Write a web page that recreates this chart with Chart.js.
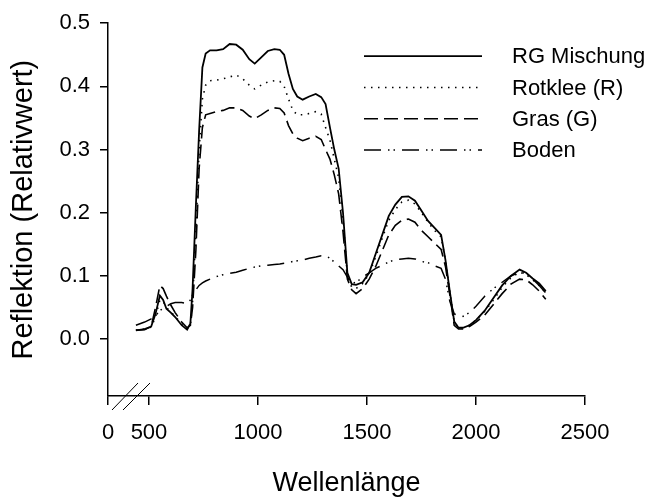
<!DOCTYPE html>
<html>
<head>
<meta charset="utf-8">
<script src="https://cdn.jsdelivr.net/npm/chart.js@4.4.1/dist/chart.umd.min.js"></script>
<style>
  html, body { margin: 0; padding: 0; background: #fff; }
  canvas { display: block; }
</style>
</head>
<body>
<canvas id="chart" width="651" height="500"></canvas>
<script>
// Spectral reflectance of a red clover / grass mixture, its components and bare soil
const wavelengths = [440, 480, 510, 530, 550, 565, 580, 600, 620, 650, 675, 690, 700, 715, 730, 745, 760, 780, 810, 840,
  870, 900, 930, 960, 985, 1015, 1045, 1075, 1100, 1120, 1140, 1160, 1180, 1205, 1235, 1265, 1290, 1310, 1330, 1350,
  1370, 1390, 1410, 1430, 1450, 1480, 1510, 1540, 1570, 1600, 1630, 1660, 1690, 1720, 1750, 1780, 1810, 1840, 1860, 1880,
  1900, 1920, 1940, 1970, 2000, 2040, 2080, 2120, 2160, 2200, 2230, 2260, 2290, 2320];

const rgMischung = [0.014, 0.016, 0.020, 0.040, 0.069, 0.062, 0.048, 0.042, 0.035, 0.022, 0.015, 0.025, 0.080, 0.210, 0.330, 0.430, 0.452, 0.457, 0.457, 0.459,
  0.467, 0.466, 0.458, 0.443, 0.436, 0.446, 0.456, 0.459, 0.458, 0.450, 0.420, 0.396, 0.384, 0.379, 0.384, 0.388, 0.383, 0.372, 0.335, 0.300,
  0.270, 0.200, 0.105, 0.087, 0.086, 0.090, 0.105, 0.135, 0.165, 0.195, 0.213, 0.225, 0.226, 0.219, 0.203, 0.187, 0.176, 0.165, 0.125, 0.075,
  0.028, 0.018, 0.018, 0.022, 0.030, 0.045, 0.065, 0.085, 0.100, 0.110, 0.105, 0.096, 0.088, 0.076];

const rotklee = [0.014, 0.016, 0.019, 0.035, 0.062, 0.060, 0.050, 0.043, 0.036, 0.024, 0.017, 0.022, 0.060, 0.170, 0.300, 0.380, 0.402, 0.409, 0.410, 0.412,
  0.415, 0.418, 0.412, 0.402, 0.396, 0.402, 0.407, 0.409, 0.408, 0.400, 0.380, 0.362, 0.355, 0.355, 0.357, 0.360, 0.356, 0.335, 0.315, 0.285,
  0.255, 0.190, 0.100, 0.082, 0.080, 0.088, 0.103, 0.130, 0.160, 0.188, 0.205, 0.217, 0.220, 0.214, 0.200, 0.185, 0.172, 0.162, 0.124, 0.075,
  0.027, 0.018, 0.018, 0.022, 0.030, 0.044, 0.062, 0.082, 0.097, 0.106, 0.102, 0.094, 0.085, 0.073];

const gras = [0.014, 0.015, 0.020, 0.050, 0.085, 0.080, 0.068, 0.054, 0.042, 0.027, 0.018, 0.022, 0.050, 0.140, 0.270, 0.335, 0.355, 0.357, 0.360, 0.362,
  0.366, 0.366, 0.362, 0.353, 0.349, 0.355, 0.362, 0.366, 0.365, 0.358, 0.338, 0.325, 0.318, 0.314, 0.318, 0.321, 0.316, 0.300, 0.285, 0.260,
  0.230, 0.170, 0.095, 0.078, 0.072, 0.080, 0.095, 0.115, 0.140, 0.165, 0.180, 0.188, 0.190, 0.185, 0.172, 0.162, 0.152, 0.142, 0.115, 0.070,
  0.022, 0.016, 0.016, 0.020, 0.027, 0.038, 0.055, 0.072, 0.087, 0.095, 0.094, 0.086, 0.076, 0.063];

const boden = [0.022, 0.027, 0.032, 0.037, 0.045, 0.049, 0.052, 0.056, 0.058, 0.058, 0.056, 0.062, 0.070, 0.078, 0.085, 0.089, 0.092, 0.095, 0.099, 0.102,
  0.104, 0.106, 0.109, 0.112, 0.114, 0.116, 0.117, 0.118, 0.119, 0.120, 0.121, 0.123, 0.124, 0.125, 0.128, 0.130, 0.132, 0.132, 0.128, 0.122,
  0.116, 0.110, 0.098, 0.088, 0.090, 0.098, 0.105, 0.112, 0.117, 0.122, 0.126, 0.127, 0.128, 0.127, 0.123, 0.121, 0.116, 0.112, 0.095, 0.060,
  0.040, 0.037, 0.036, 0.042, 0.052, 0.068, 0.080, 0.090, 0.100, 0.106, 0.104, 0.095, 0.085, 0.073];

const seriesLabels = ['RG Mischung', 'Rotklee (R)', 'Gras (G)', 'Boden'];
const xTicks = [500, 1000, 1500, 2000, 2500];
const yTicks = [0, 0.1, 0.2, 0.3, 0.4, 0.5];
const xAxisStart = 312;   // the x axis is broken: its first tick is labelled 0
const yAxisMin = -0.09;

const FONT = '"Liberation Sans", Arial, sans-serif';

function points(values) {
  return wavelengths.map((w, i) => ({ x: w, y: values[i] }));
}

function lineSet(label, values, dash, width) {
  return {
    label: label,
    data: points(values),
    borderColor: '#000',
    borderWidth: width,
    borderDash: dash,
    pointRadius: 0,
    tension: 0,
    fill: false
  };
}

// legend drawn inside the plot, top right
const innerLegend = {
  id: 'innerLegend',
  afterDatasetsDraw(chart) {
    const { ctx, chartArea } = chart;
    const x0 = chartArea.left + 256;
    const x1 = chartArea.left + 374;
    const tx = chartArea.left + 404;
    let y = chartArea.top + 33;
    ctx.save();
    ctx.font = '22px ' + FONT;
    ctx.textBaseline = 'middle';
    ctx.fillStyle = '#000';
    chart.data.datasets.forEach(ds => {
      ctx.beginPath();
      ctx.setLineDash(ds.borderDash || []);
      ctx.lineWidth = ds.borderWidth;
      ctx.strokeStyle = ds.borderColor;
      ctx.moveTo(x0, y);
      ctx.lineTo(x1, y);
      ctx.stroke();
      ctx.setLineDash([]);
      ctx.fillText(ds.label, tx, y + 1);
      y += 31.3;
    });
    ctx.restore();
  }
};

// the "//" marks for the broken x axis
const axisBreak = {
  id: 'axisBreak',
  afterDraw(chart) {
    const { ctx, chartArea } = chart;
    const l = chartArea.left, b = chartArea.bottom;
    ctx.save();
    ctx.strokeStyle = '#000';
    ctx.lineWidth = 1;
    ctx.beginPath();
    ctx.moveTo(l + 4, b + 14);
    ctx.lineTo(l + 30, b - 13);
    ctx.moveTo(l + 15, b + 14);
    ctx.lineTo(l + 42, b - 13);
    ctx.stroke();
    ctx.restore();
  }
};

new Chart(document.getElementById('chart'), {
  type: 'line',
  data: {
    datasets: [
      lineSet(seriesLabels[0], rgMischung, [], 1.8),
      lineSet(seriesLabels[1], rotklee, [1.5, 5.5], 1.6),
      lineSet(seriesLabels[2], gras, [14, 6], 1.6),
      lineSet(seriesLabels[3], boden, [17, 7, 1.5, 4, 1.5, 7], 1.5)
    ]
  },
  options: {
    responsive: false,
    animation: false,
    layout: { padding: { left: 0, right: 66, top: 21, bottom: 0 } },
    plugins: {
      legend: { display: false },
      tooltip: { enabled: false }
    },
    scales: {
      x: {
        type: 'linear',
        min: xAxisStart,
        max: 2500,
        afterBuildTicks(scale) {
          scale.ticks = [xAxisStart].concat(xTicks).map(v => ({ value: v }));
        },
        afterFit(scale) { scale.height = 104; },
        ticks: {
          color: '#000',
          font: { family: FONT, size: 22 },
          padding: 15,
          maxRotation: 0,
          autoSkip: false,
          callback: v => (v === xAxisStart ? '0' : String(v))
        },
        grid: { drawOnChartArea: false, drawTicks: true, tickLength: 9, color: '#000', lineWidth: 1.5 },
        border: { display: true, color: '#000', width: 1.5 },
        title: {
          display: true,
          text: 'Wellenlänge',
          color: '#000',
          font: { family: FONT, size: 27 },
          padding: { top: 0, bottom: 0 }
        }
      },
      y: {
        min: yAxisMin,
        max: 0.5,
        afterBuildTicks(scale) {
          scale.ticks = yTicks.map(v => ({ value: v }));
        },
        afterFit(scale) { scale.width = 108; },
        ticks: {
          color: '#000',
          font: { family: FONT, size: 22 },
          padding: 10,
          callback: v => v.toFixed(1)
        },
        grid: { drawOnChartArea: false, drawTicks: true, tickLength: 8, color: '#000', lineWidth: 1.5 },
        border: { display: true, color: '#000', width: 1.5 },
        title: {
          display: true,
          text: 'Reflektion (Relativwert)',
          color: '#000',
          font: { family: FONT, size: 29 },
          padding: { top: 7, bottom: 0 }
        }
      }
    }
  },
  plugins: [innerLegend, axisBreak]
});
</script>
</body>
</html>
